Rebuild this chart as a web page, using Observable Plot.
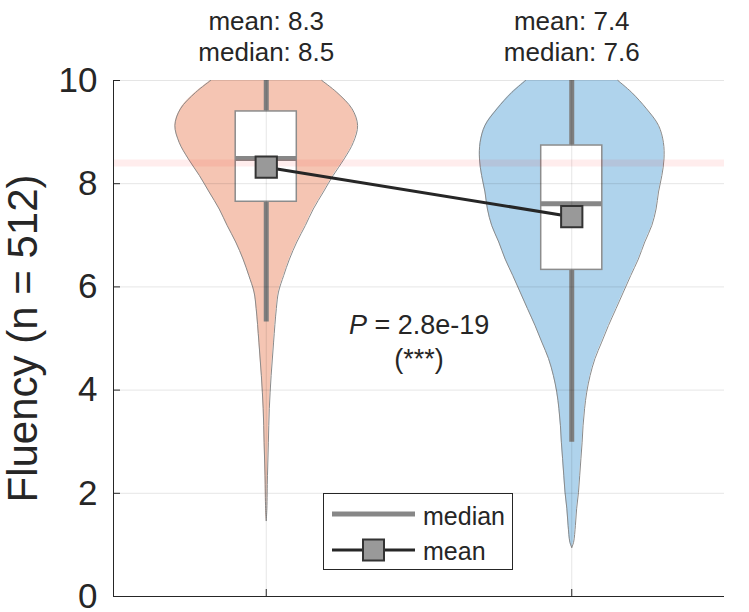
<!DOCTYPE html>
<html><head><meta charset="utf-8">
<script src="https://cdn.jsdelivr.net/npm/d3@7"></script>
<script src="https://cdn.jsdelivr.net/npm/@observablehq/plot@0.6"></script>
<style>
html,body{margin:0;padding:0;background:#fff;}
#chart{position:relative;width:749px;height:612px;overflow:hidden;font-family:"Liberation Sans",Arial,Helvetica,sans-serif;color:#262626;}
#legend{position:absolute;left:323px;top:493px;width:190px;height:77px;box-sizing:border-box;background:#fff;border:1px solid #262626;}
#legend svg{display:block;}
</style></head><body><div id="chart"></div>
<script>
// ---- data ----
const groupPositions = [1, 2];
const violinColors = ["#ef9f80", "#7ab5e0"];
const means = [8.32, 7.36];
const medians = [8.49, 7.61];
const q1 = [7.65, 6.33];
const q3 = [9.40, 8.74];
const whiskerLow = [5.32, 2.99];
const whiskerHigh = [10, 10];
const yTicks = [0, 2, 4, 6, 8, 10];
const referenceLevel = 8.4;
const pValueText = "2.8e-19";
const significanceText = "(***)";
const yLabel = "Fluency (n = 512)";
const legendLabels = ["median", "mean"];

// violin profiles: value level and half-width (in group-spacing units)
const violin1Levels = [10, 9.77, 9.45, 9.13, 8.80, 8.48, 8.16, 7.84, 7.51, 7.19, 6.87, 6.54, 6.22, 5.90, 5.58, 4.93, 4.28, 3.64, 2.99, 2.34, 1.70, 1.47];
const violin1Widths = [0.182, 0.231, 0.281, 0.299, 0.285, 0.255, 0.219, 0.187, 0.154, 0.128, 0.100, 0.076, 0.057, 0.040, 0.033, 0.024, 0.016, 0.010, 0.007, 0.004, 0.002, 0];
const violin2Levels = [10, 9.77, 9.45, 9.13, 8.80, 8.48, 8.16, 7.84, 7.51, 7.19, 6.87, 6.54, 6.22, 5.90, 5.58, 5.25, 4.93, 4.61, 4.28, 3.96, 3.64, 3.31, 2.99, 2.67, 2.34, 2.02, 1.70, 1.38, 1.05, 0.95];
const violin2Widths = [0.151, 0.196, 0.245, 0.284, 0.300, 0.302, 0.295, 0.284, 0.276, 0.262, 0.239, 0.218, 0.193, 0.169, 0.145, 0.120, 0.098, 0.076, 0.060, 0.049, 0.042, 0.037, 0.034, 0.030, 0.026, 0.022, 0.016, 0.012, 0.006, 0];

const boxHalf = 0.1;
const pLabelY = 5.26, starsY = 4.60;

// ---- build tables ----
const profile = (levels, widths, gi) => levels.map((v, i) => ({pos: groupPositions[gi], v, w: widths[i]}));
const violins = [profile(violin1Levels, violin1Widths, 0), profile(violin2Levels, violin2Widths, 1)];
const stats = groupPositions.map((pos, i) => ({pos, mean: means[i], median: medians[i], q1: q1[i], q3: q3[i], lo: whiskerLow[i], hi: whiskerHigh[i]}));
const f1 = d3.format(".1f");
const mid = d3.mean(groupPositions);

const plot = Plot.plot({
  width: 749, height: 612,
  marginLeft: 113, marginRight: 25, marginTop: 80, marginBottom: 16,
  x: {domain: [0.5, 2.5], axis: null},
  y: {domain: [0, 10], axis: null},
  style: {fontFamily: '"Liberation Sans", Arial, Helvetica, sans-serif', color: "#262626", background: "white"},
  marks: [
    ...violins.map((p, i) => Plot.areaX(p, {y: "v", x1: d => d.pos - d.w, x2: d => d.pos + d.w, fill: violinColors[i], fillOpacity: 0.6, curve: "catmull-rom"})),
    ...violins.flatMap(p => [
      Plot.line(p, {x: d => d.pos - d.w, y: "v", stroke: "#8a8a8a", strokeWidth: 1, curve: "catmull-rom"}),
      Plot.line(p, {x: d => d.pos + d.w, y: "v", stroke: "#8a8a8a", strokeWidth: 1, curve: "catmull-rom"})
    ]),
    Plot.ruleX(stats, {x: "pos", y1: "lo", y2: "hi", stroke: "#7f7f7f", strokeWidth: 5}),
    Plot.rect(stats, {x1: d => d.pos - boxHalf, x2: d => d.pos + boxHalf, y1: "q1", y2: "q3", fill: "white", stroke: "#8c8c8c", strokeWidth: 1.5}),
    Plot.ruleY(stats, {y: "median", x1: d => d.pos - boxHalf, x2: d => d.pos + boxHalf, stroke: "#878787", strokeWidth: 5}),
    Plot.gridY({ticks: yTicks, stroke: "black", strokeOpacity: 0.1}),
    Plot.gridX({ticks: groupPositions, stroke: "black", strokeOpacity: 0.1}),
    Plot.ruleY([referenceLevel], {stroke: "red", strokeOpacity: 0.07, strokeWidth: 7}),
    Plot.line(stats, {x: "pos", y: "mean", stroke: "#262626", strokeWidth: 3}),
    Plot.dot(stats, {x: "pos", y: "mean", symbol: "square", r: 12, fill: "#999999", stroke: "#333333", strokeWidth: 2}),
    Plot.ruleX([0.5], {stroke: "#262626"}),
    Plot.ruleY([0], {stroke: "#262626"}),
    Plot.axisY({ticks: yTicks, tickSize: 7, dx: 7, tickPadding: 16, fontSize: 35, tickFormat: d3.format("d"), label: null}),
    Plot.axisX({ticks: groupPositions, tickSize: 7, dy: -7, tickFormat: () => "", label: null}),
    Plot.text(stats, {x: "pos", y: () => 10, text: d => `mean: ${f1(d.mean)}`, dy: -59, fontSize: 26}),
    Plot.text(stats, {x: "pos", y: () => 10, text: d => `median: ${f1(d.median)}`, dy: -28, fontSize: 26}),
    Plot.text(["P"], {x: () => mid, y: () => pLabelY, textAnchor: "end", dx: -52, fontSize: 27, fontStyle: "italic"}),
    Plot.text([`\u00A0= ${pValueText}`], {x: () => mid, y: () => pLabelY, textAnchor: "start", dx: -52, fontSize: 27}),
    Plot.text([significanceText], {x: () => mid, y: () => starsY, fontSize: 27}),
    Plot.text([yLabel], {frameAnchor: "left", textAnchor: "middle", lineAnchor: "middle", rotate: -90, dx: -90, fontSize: 42})
  ]
});

const chart = document.getElementById("chart");
chart.appendChild(plot);

// legend
const legend = document.createElement("div");
legend.id = "legend";
legend.innerHTML = `<svg width="188" height="75" font-family='"Liberation Sans", Arial, Helvetica, sans-serif' font-size="25" fill="#262626">
  <line x1="8" x2="91" y1="20" y2="20" stroke="#878787" stroke-width="5"/>
  <text x="99" y="31">${legendLabels[0]}</text>
  <line x1="8" x2="91" y1="56" y2="56" stroke="#262626" stroke-width="3"/>
  <rect x="39" y="45.5" width="21" height="21" fill="#999999" stroke="#333333" stroke-width="2"/>
  <text x="99" y="66">${legendLabels[1]}</text>
</svg>`;
chart.appendChild(legend);
</script>
</body></html>
